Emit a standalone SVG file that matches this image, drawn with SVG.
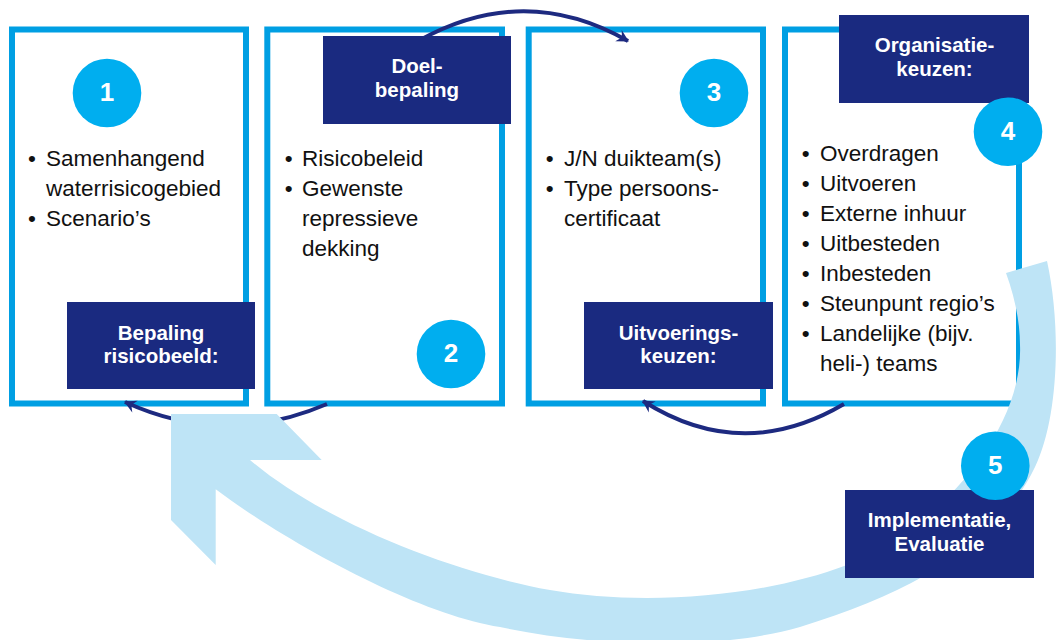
<svg xmlns="http://www.w3.org/2000/svg" width="1056" height="640" viewBox="0 0 1056 640">
  <defs>
    <style>
      .frame { fill: #ffffff; stroke: #009fe3; stroke-width: 6; }
      .label { fill: #1a2a80; }
      .num { fill: #00aeef; }
      .numtxt { fill: #ffffff; font-family: "Liberation Sans", Arial, sans-serif; font-weight: bold; font-size: 26px; text-anchor: middle; }
      .lbltxt { fill: #ffffff; font-family: "Liberation Sans", Arial, sans-serif; font-weight: bold; font-size: 20.5px; text-anchor: middle; }
      .body { fill: #111111; font-family: "Liberation Sans", Arial, sans-serif; font-size: 22.5px; }
      .bul { fill: #111111; font-family: "Liberation Sans", Arial, sans-serif; font-size: 22.5px; text-anchor: middle; }
      .conn { fill: none; stroke: #1d2a80; stroke-width: 4; }
      .band { fill: #bee4f6; }
    </style>
    <marker id="ah" viewBox="-12 -7 14 14" markerWidth="14" markerHeight="14" refX="0" refY="0" orient="auto" markerUnits="userSpaceOnUse">
      <path d="M -11 -6.5 L 1 0 L -11 6.5 L -7 0 Z" fill="#1d2a80"/>
    </marker>
  </defs>

  <g id="box1"><rect class="frame" x="12" y="29.5" width="234" height="374"/></g>
  <g id="box2"><rect class="frame" x="267.3" y="29.5" width="234.7" height="374"/></g>
  <g id="box3"><rect class="frame" x="528.7" y="29.5" width="234.3" height="374"/></g>
  <g id="box4"><rect class="frame" x="785" y="29.5" width="234" height="374"/></g>

  <g id="connectors">
    <path class="conn" d="M 420 40 Q 525 -18 628 41" marker-end="url(#ah)"/>
    <path class="conn" d="M 327 404 Q 225 448 125 402" marker-end="url(#ah)"/>
    <path class="conn" d="M 844 404 Q 742 464 643 401" marker-end="url(#ah)"/>
  </g>

  <g id="cycle-arrow">
    <path class="band" d="M 1047 261 C 1062 330, 1058 420, 1035 467 C 1000 540, 920 590, 800 627 C 720 650, 600 648, 500 627 C 420 615, 290 545, 215.7 489.3 L 215.7 565 L 171 520 L 171 414 L 276.7 414 L 321.7 460 L 250 460 C 320 520, 450 572, 550 590 C 640 606, 760 598, 847 565 C 920 540, 1024 440, 1020 345 C 1020 320, 1014 295, 1006 273 Z"/>
  </g>

  <g id="step1">
    <rect class="label" x="67" y="302" width="188" height="87"/>
    <text class="lbltxt" x="161" y="339.5">Bepaling</text>
    <text class="lbltxt" x="161" y="362.5">risicobeeld:</text>
    <circle class="num" cx="107" cy="93" r="34.3"/>
    <text class="numtxt" x="107" y="101">1</text>
    <text class="bul" x="32" y="166">•</text>
    <text class="body" x="46" y="166">Samenhangend</text>
    <text class="body" x="46" y="196">waterrisicogebied</text>
    <text class="bul" x="32" y="226">•</text>
    <text class="body" x="46" y="226">Scenario’s</text>
  </g>

  <g id="step2">
    <rect class="label" x="323" y="36" width="188" height="88"/>
    <text class="lbltxt" x="417" y="72.5">Doel-</text>
    <text class="lbltxt" x="417" y="96.5">bepaling</text>
    <circle class="num" cx="451" cy="354" r="34.3"/>
    <text class="numtxt" x="451" y="362">2</text>
    <text class="bul" x="288.7" y="166">•</text>
    <text class="body" x="302" y="166">Risicobeleid</text>
    <text class="bul" x="288.7" y="196">•</text>
    <text class="body" x="302" y="196">Gewenste</text>
    <text class="body" x="302" y="226">repressieve</text>
    <text class="body" x="302" y="256">dekking</text>
  </g>

  <g id="step3">
    <rect class="label" x="584" y="302" width="189" height="87"/>
    <text class="lbltxt" x="678.5" y="339.5">Uitvoerings-</text>
    <text class="lbltxt" x="678.5" y="362.5">keuzen:</text>
    <circle class="num" cx="714" cy="93" r="34.3"/>
    <text class="numtxt" x="714" y="101">3</text>
    <text class="bul" x="549.7" y="165.5">•</text>
    <text class="body" x="564" y="165.5">J/N duikteam(s)</text>
    <text class="bul" x="549.7" y="195.5">•</text>
    <text class="body" x="564" y="195.5">Type persoons-</text>
    <text class="body" x="564" y="225.5">certificaat</text>
  </g>

  <g id="step4">
    <rect class="label" x="839" y="15" width="190" height="88"/>
    <text class="lbltxt" x="934.5" y="51.5">Organisatie-</text>
    <text class="lbltxt" x="934.5" y="75.5">keuzen:</text>
    <circle class="num" cx="1008" cy="131.7" r="34.3"/>
    <text class="numtxt" x="1008" y="140">4</text>
    <text class="bul" x="805.7" y="161">•</text>
    <text class="body" x="820" y="161">Overdragen</text>
    <text class="bul" x="805.7" y="191">•</text>
    <text class="body" x="820" y="191">Uitvoeren</text>
    <text class="bul" x="805.7" y="221">•</text>
    <text class="body" x="820" y="221">Externe inhuur</text>
    <text class="bul" x="805.7" y="251">•</text>
    <text class="body" x="820" y="251">Uitbesteden</text>
    <text class="bul" x="805.7" y="281">•</text>
    <text class="body" x="820" y="281">Inbesteden</text>
    <text class="bul" x="805.7" y="311">•</text>
    <text class="body" x="820" y="311">Steunpunt regio’s</text>
    <text class="bul" x="805.7" y="341">•</text>
    <text class="body" x="820" y="341">Landelijke (bijv.</text>
    <text class="body" x="820" y="371">heli-) teams</text>
  </g>

  <g id="step5">
    <rect class="label" x="845" y="490" width="189" height="88"/>
    <text class="lbltxt" x="939.5" y="526.5">Implementatie,</text>
    <text class="lbltxt" x="939.5" y="550.5">Evaluatie</text>
    <circle class="num" cx="995.3" cy="465.7" r="34.3"/>
    <text class="numtxt" x="995.3" y="474">5</text>
  </g>
</svg>
